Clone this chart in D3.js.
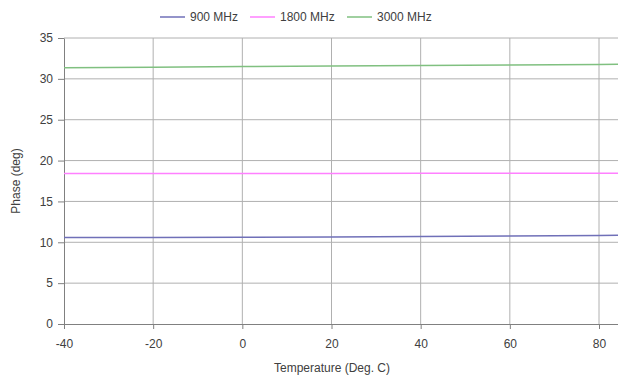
<!DOCTYPE html>
<html>
<head>
<meta charset="utf-8">
<script src="https://cdn.jsdelivr.net/npm/d3@7"></script>
<style>
  body { margin: 0; background: #fff; }
  svg text { font-family: "Liberation Sans", Arial, sans-serif; fill: #404040; }
</style>
</head>
<body>
<div id="chart"></div>
<script>
// Phase vs temperature
const temps = [-40, -20, 0, 20, 40, 60, 80, 85];
const phase900 = [10.6, 10.6, 10.62, 10.65, 10.72, 10.78, 10.84, 10.86];
const phase1800 = [18.42, 18.42, 18.43, 18.43, 18.44, 18.44, 18.45, 18.45];
const phase3000 = [31.35, 31.42, 31.5, 31.57, 31.63, 31.7, 31.76, 31.78];
const seriesNames = ['900 MHz', '1800 MHz', '3000 MHz'];
const xTicks = [-40, -20, 0, 20, 40, 60, 80];
const yTicks = [0, 5, 10, 15, 20, 25, 30, 35];

const width = 618;
const height = 380;
const margin = { top: 38, right: 0, bottom: 56, left: 64 };

const colors = ['#7070b8', '#ff80ff', '#80c080'];
const series = [phase900, phase1800, phase3000];

const svg = d3.select('#chart').append('svg')
  .attr('width', width)
  .attr('height', height);

const xScale = d3.scaleLinear()
  .domain([-40, 85])
  .range([margin.left, margin.left + 125 * (535 / 120)]);

const yScale = d3.scaleLinear()
  .domain([0, 35])
  .range([height - margin.bottom, margin.top]);

// grid
svg.append('g')
  .selectAll('line.vgrid')
  .data(xTicks.slice(1))
  .enter().append('line')
  .attr('x1', d => xScale(d)).attr('x2', d => xScale(d))
  .attr('y1', margin.top).attr('y2', yScale(0))
  .attr('stroke', '#b0b0b0');

svg.append('g')
  .selectAll('line.hgrid')
  .data(yTicks.slice(1))
  .enter().append('line')
  .attr('x1', margin.left).attr('x2', width)
  .attr('y1', d => yScale(d)).attr('y2', d => yScale(d))
  .attr('stroke', '#b0b0b0');

// axes (plain hyphen for negatives, like the original)
const fmt = d => String(d);

const xAxis = svg.append('g')
  .attr('transform', `translate(0,${yScale(0)})`)
  .call(d3.axisBottom(xScale).tickValues(xTicks).tickFormat(fmt)
    .tickSize(5).tickSizeOuter(0).tickPadding(10));

const yAxis = svg.append('g')
  .attr('transform', `translate(${margin.left},0)`)
  .call(d3.axisLeft(yScale).tickValues(yTicks).tickFormat(fmt)
    .tickSize(6).tickSizeOuter(0).tickPadding(5));

[xAxis, yAxis].forEach(ax => {
  ax.select('.domain').attr('stroke', '#808080');
  ax.selectAll('.tick line').attr('stroke', '#808080');
  ax.selectAll('.tick text')
    .attr('fill', '#404040')
    .style('font-size', '12px')
    .style('font-family', '"Liberation Sans", Arial, sans-serif');
});

// axis titles
svg.append('text')
  .attr('x', 332)
  .attr('y', 372)
  .attr('text-anchor', 'middle')
  .style('font-size', '12px')
  .text('Temperature (Deg. C)');

svg.append('text')
  .attr('transform', `translate(20,${(margin.top + yScale(0)) / 2}) rotate(-90)`)
  .attr('text-anchor', 'middle')
  .style('font-size', '12px')
  .text('Phase (deg)');

// lines
const line = d3.line()
  .x((d, i) => xScale(temps[i]))
  .y(d => yScale(d));

svg.append('g')
  .selectAll('path')
  .data(series)
  .enter().append('path')
  .attr('d', line)
  .attr('fill', 'none')
  .attr('stroke', (d, i) => colors[i])
  .attr('stroke-width', 1.5);

// legend
const legendX = [160, 250, 347];
const legend = svg.append('g')
  .selectAll('g')
  .data(seriesNames)
  .enter().append('g')
  .attr('transform', (d, i) => `translate(${legendX[i]},17)`);

legend.append('line')
  .attr('x1', 0).attr('x2', 25)
  .attr('stroke', (d, i) => colors[i])
  .attr('stroke-width', 1.5);

legend.append('text')
  .attr('x', 30)
  .attr('y', 4)
  .style('font-size', '12px')
  .text(d => d);
</script>
</body>
</html>
